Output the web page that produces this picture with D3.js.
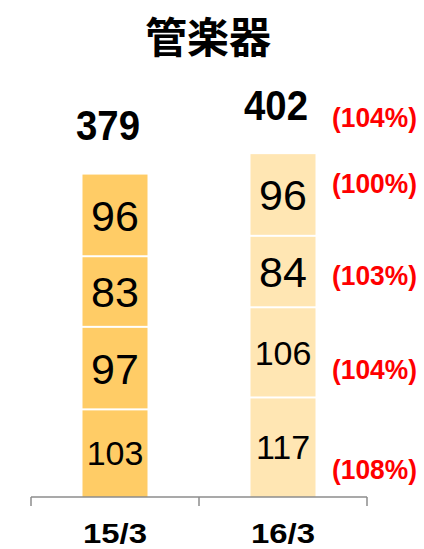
<!DOCTYPE html>
<html>
<head>
<meta charset="utf-8">
<script src="https://cdn.jsdelivr.net/npm/d3@7"></script>
<style>
  body { margin: 0; background: #fff; }
  svg { display: block; }
</style>
</head>
<body>
<div class="canvas"></div>
<script>
// data
const title = '管楽器'
const categories = ['15/3', '16/3']
// stacked segments, bottom to top
const seg1 = [103, 117]
const seg2 = [97, 106]
const seg3 = [83, 84]
const seg4 = [96, 96]
const totals = [379, 402]
const segGrowth = ['(108%)', '(104%)', '(103%)', '(100%)']
const totalGrowth = '(104%)'

const barColors = ['#FFCC66', '#FFE6B3']

const dims = { width: 424, height: 549 }
const svg = d3.select('.canvas')
  .append('svg')
  .attr('width', dims.width)
  .attr('height', dims.height)

// scales
const x = d3.scaleBand()
  .domain(categories)
  .range([31, 367])
  .padding(0)

const y = d3.scaleLinear()
  .domain([0, 402])
  .range([497, 155])

const barW = 65
const barX = c => x(c) + x.bandwidth() / 2 - barW / 2
const segments = [seg1, seg2, seg3, seg4]

// stack data per category
const stacked = categories.map((c, ci) => {
  let acc = 0
  return segments.map((s, si) => {
    const d = { cat: ci, idx: si, lo: acc, hi: acc + s[ci], value: s[ci] }
    acc += s[ci]
    return d
  })
})

// title
svg.append('text')
  .attr('x', 208)
  .attr('y', 34)
  .attr('text-anchor', 'middle')
  .attr('dominant-baseline', 'central')
  .attr('font-family', '"Noto Sans CJK JP", sans-serif')
  .attr('font-weight', 'bold')
  .attr('font-size', 42)
  .text(title)

// bars
const barGroups = svg.selectAll('g.bar')
  .data(stacked)
  .enter()
  .append('g')
    .attr('class', 'bar')

const last = segments.length - 1
barGroups.selectAll('rect')
  .data(d => d)
  .enter()
  .append('rect')
    .attr('x', d => barX(categories[d.cat]))
    .attr('width', barW)
    .attr('y', d => y(d.hi) + (d.idx === last ? 0 : 1))
    .attr('height', d => y(d.lo) - y(d.hi) - (d.idx === 0 ? 0 : 1) - (d.idx === last ? 0 : 1))
    .attr('fill', d => barColors[d.cat])

// segment values
barGroups.selectAll('text.val')
  .data(d => d)
  .enter()
  .append('text')
    .attr('class', 'val')
    .attr('x', d => barX(categories[d.cat]) + barW / 2)
    .attr('y', d => (y(d.lo) + y(d.hi)) / 2)
    .attr('dy', '0.36em')
    .attr('text-anchor', 'middle')
    .attr('font-family', '"Liberation Sans", Arial, sans-serif')
    .attr('font-size', d => d.value >= 100 ? 34 : 43)
    .attr('fill', '#000')
    .text(d => d.value)

// totals
svg.selectAll('text.total')
  .data(totals)
  .enter()
  .append('text')
    .attr('class', 'total')
    .attr('x', (d, i) => barX(categories[i]) + barW / 2 - 7)
    .attr('y', d => y(d) - 35)
    .attr('text-anchor', 'middle')
    .attr('font-family', '"Liberation Sans", Arial, sans-serif')
    .attr('font-weight', 'bold')
    .attr('font-size', 42)
    .attr('textLength', 64)
    .attr('lengthAdjust', 'spacingAndGlyphs')
    .text(d => d)

// red growth labels next to second bar
const pctNudge = [22, 17, 4, -12] // hand placement in the source slide
const pctX = 332
const pctStyle = sel => sel
  .attr('x', pctX)
  .attr('font-family', '"Liberation Sans", Arial, sans-serif')
  .attr('font-weight', 'bold')
  .attr('font-size', 27)
  .attr('fill', '#FF0000')
  .attr('textLength', 85)
  .attr('lengthAdjust', 'spacingAndGlyphs')

svg.selectAll('text.pct')
  .data(stacked[1])
  .enter()
  .append('text')
    .attr('class', 'pct')
    .call(pctStyle)
    .attr('y', (d, i) => (y(d.lo) + y(d.hi)) / 2 + pctNudge[i])
    .attr('dy', '0.36em')
    .text((d, i) => segGrowth[i])

svg.append('text')
  .call(pctStyle)
  .attr('y', y(totals[1]) - 28)
  .text(totalGrowth)

// x axis: baseline with ticks at category boundaries
const axisY = y(0)
const tickXs = categories.map(c => x(c)).concat([x.range()[1]])
svg.append('line')
  .attr('x1', x.range()[0])
  .attr('x2', x.range()[1])
  .attr('y1', axisY)
  .attr('y2', axisY)
  .attr('stroke', '#8c8c8c')
  .attr('stroke-width', 1.5)

svg.selectAll('line.tick')
  .data(tickXs)
  .enter()
  .append('line')
    .attr('class', 'tick')
    .attr('x1', d => d)
    .attr('x2', d => d)
    .attr('y1', axisY)
    .attr('y2', axisY + 9)
    .attr('stroke', '#8c8c8c')
    .attr('stroke-width', 1.5)

svg.selectAll('text.cat')
  .data(categories)
  .enter()
  .append('text')
    .attr('class', 'cat')
    .attr('x', d => x(d) + x.bandwidth() / 2)
    .attr('y', 543)
    .attr('text-anchor', 'middle')
    .attr('font-family', '"Liberation Sans", Arial, sans-serif')
    .attr('font-weight', 'bold')
    .attr('font-size', 27)
    .attr('textLength', 64)
    .attr('lengthAdjust', 'spacingAndGlyphs')
    .text(d => d)
</script>
</body>
</html>
